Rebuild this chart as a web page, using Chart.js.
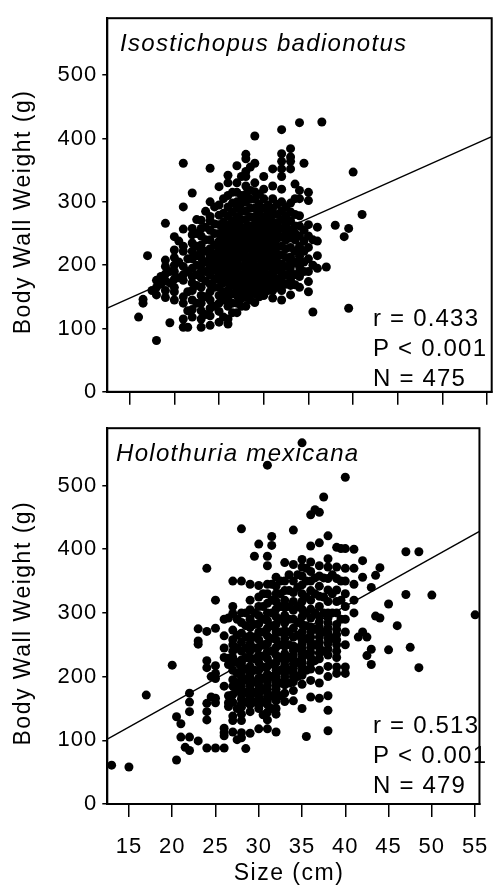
<!DOCTYPE html>
<html lang="en">
<head>
<meta charset="UTF-8">
<title>Body wall weight vs size</title>
<script src="https://cdn.jsdelivr.net/npm/chart.js"></script>
<style>
  body { margin: 0; background: #fff; }
  canvas { position: absolute; left: 0; display: block; }
</style>
</head>
<body>
<canvas id="topChart" width="504" height="410" style="top:0"></canvas>
<canvas id="bottomChart" width="504" height="480" style="top:410px"></canvas>
<script>
const xTicks = [15, 20, 25, 30, 35, 40, 45, 50, 55];
const yTicks = [0, 100, 200, 300, 400, 500];
const fitX = [12.5, 55.5];
const badionotusFit = [132, 403];
const mexicanaFit = [102, 428];
const badionotusStats = ['r = 0.433', 'P < 0.001', 'N = 475'];
const mexicanaStats = ['r = 0.513', 'P < 0.001', 'N = 479'];

// size (cm), body wall weight (g)
const badionotus = [
  [16,118],[16.5,140],[16.5,146],
  [17,215],[17.5,160],
  [18,81],[18,153],[18,165],[18,176],[18.5,170],[18.5,182],
  [19,149],[19,160],[19,175],[19,186],[19,198],[19,208],[19,266],[19.5,109],[19.5,172],[19.5,190],
  [20,145],[20,158],[20,165],[20,178],[20,190],[20,200],[20,212],[20,224],[20,245],[20.5,238],[20.5,180],[20.5,205],
  [21,102],[21,115],[21,140],[21,150],[21,176],[21,185],[21,198],[21,222],[21,230],[21,257],[21,292],[21,361],[21.5,102],[21.5,128],[21.5,158],[21.5,190],[21.5,210],
  [22,118],[22,130],[22,145],[22,160],[22,172],[22,182],[22,235],[22,248],[22,258],[22,314],[22.5,140],[22.5,168],[22.5,230],[22.5,272],
  [22,195],[22,210],[22,222],[22.5,185],[22.5,200],[22.5,215],[22.5,250],
  [23,102],[23,115],[23,128],[23,140],[23,152],[23,165],[23,180],[23,190],[23,232],[23,246],[23,258],[23,271],[23.5,122],[23.5,150],[23.5,205],[23.5,240],[23.5,285],
  [23,200],[23,212],[23,222],[23.5,175],[23.5,190],[23.5,222],[23.5,260],
  [24,105],[24,120],[24,132],[24,145],[24,158],[24,170],[24,185],[24,198],[24,212],[24,226],[24,240],[24,255],[24,270],[24,277],[24,300],[24,353],[24.5,135],[24.5,165],[24.5,192],[24.5,218],[24.5,250],[24.5,292],
  [24,192],[24,205],[24,218],[24.5,178],[24.5,205],[24.5,232],[24.5,265],
  [25,110],[25,127],[25,140],[25,152],[25,165],[25,178],[25,190],[25,202],[25,214],[25,226],[25,238],[25,250],[25,264],[25,279],[25,295],[25,324],[25.5,118],[25.5,145],[25.5,172],[25.5,196],[25.5,220],[25.5,244],[25.5,268],[25.5,305],
  [25,184],[25,196],[25,208],[25,220],[25,232],[25.5,158],[25.5,184],[25.5,208],[25.5,232],[25.5,256],[25.5,282],
  [26,107],[26,115],[26,135],[26,148],[26,160],[26,172],[26,184],[26,195],[26,206],[26,217],[26,228],[26,240],[26,252],[26,264],[26,278],[26,292],[26,310],[26,330],[26,342],[26.5,125],[26.5,155],[26.5,180],[26.5,200],[26.5,224],[26.5,246],[26.5,270],[26.5,298],
  [26,178],[26,190],[26,200],[26,211],[26,222],[26,234],[26.5,140],[26.5,168],[26.5,190],[26.5,212],[26.5,235],[26.5,258],[26.5,284],[26.5,315],
  [27,125],[27,140],[27,152],[27,164],[27,176],[27,187],[27,198],[27,209],[27,220],[27,231],[27,242],[27,253],[27,264],[27,276],[27,290],[27,300],[27,315],[27,330],[27,357],[27.5,135],[27.5,160],[27.5,185],[27.5,212],[27.5,236],[27.5,260],[27.5,285],[27.5,310],
  [27,170],[27,181],[27,192],[27,203],[27.5,148],[27.5,172],[27.5,198],[27.5,224],[27.5,248],[27.5,272],[27.5,298],[27.5,340],
  [28,135],[28,149],[28,160],[28,171],[28,182],[28,193],[28,204],[28,215],[28,226],[28,237],[28,248],[28,260],[28,272],[28,286],[28,300],[28,312],[28,325],[28,340],[28,348],[28,368],[28,375],[28.5,145],[28.5,168],[28.5,190],[28.5,214],[28.5,238],[28.5,262],[28.5,290],[28.5,318],
  [28,165],[28,176],[28,188],[28,198],[28,210],[28.5,156],[28.5,180],[28.5,202],[28.5,226],[28.5,250],[28.5,276],[28.5,304],[28.5,355],
  [29,141],[29,155],[29,166],[29,177],[29,188],[29,199],[29,210],[29,221],[29,232],[29,243],[29,254],[29,265],[29,277],[29,290],[29,304],[29,316],[29,330],[29,361],[29,404],[29.5,150],[29.5,175],[29.5,198],[29.5,222],[29.5,246],[29.5,270],[29.5,296],
  [29,160],[29,171],[29,182],[29,194],[29.5,162],[29.5,186],[29.5,210],[29.5,234],[29.5,258],[29.5,283],[29.5,312],
  [30,152],[30,164],[30,176],[30,187],[30,198],[30,209],[30,220],[30,231],[30,242],[30,253],[30,264],[30,276],[30,290],[30,305],[30,320],[30,340],[30.5,160],[30.5,185],[30.5,210],[30.5,234],[30.5,258],[30.5,282],
  [30,170],[30,181],[30,192],[30.5,172],[30.5,198],[30.5,222],[30.5,246],[30.5,270],[30.5,295],
  [31,148],[31,160],[31,172],[31,184],[31,196],[31,208],[31,220],[31,232],[31,244],[31,256],[31,268],[31,280],[31,290],[31,305],[31,325],[31,352],[31.5,165],[31.5,192],[31.5,218],[31.5,242],[31.5,266],[31.5,296],
  [31,166],[31,178],[31,190],[31.5,178],[31.5,205],[31.5,230],[31.5,254],[31.5,280],
  [32,145],[32,160],[32,174],[32,188],[32,202],[32,216],[32,230],[32,244],[32,258],[32,272],[32,286],[32,300],[32,320],[32,340],[32,352],[32,364],[32,376],[32,414],[32.5,170],[32.5,198],[32.5,226],[32.5,252],[32.5,278],
  [32,167],[32,181],[32,195],[32.5,184],[32.5,212],[32.5,240],[32.5,265],[32.5,292],
  [33,153],[33,168],[33,183],[33,198],[33,213],[33,228],[33,243],[33,256],[33,270],[33,284],[33,298],[33,352],[33,364],[33,371],[33,384],[33.5,169],[33.5,205],[33.5,240],[33.5,262],[33.5,305],[33.5,328],
  [33,176],[33,190],[33,205],[33.5,185],[33.5,222],[33.5,250],[33.5,280],
  [34,165],[34,182],[34,198],[34,214],[34,230],[34,246],[34,262],[34,278],[34,305],[34,318],[34,425],[34.5,361],[34.5,190],[34.5,222],[34.5,255],
  [34,190],[34,206],[34,222],[34.5,205],[34.5,238],
  [35,158],[35,174],[35,190],[35,210],[35,228],[35,246],[35,264],[35,302],[35,315],[35.5,126],[35.5,200],[35.5,240],
  [36,195],[36,215],[36,238],[36,260],[36.5,426],
  [37,197],[38,263],[39,245],[39.5,258],[39.5,132],[40,347],[41,280]
];

const mexicana = [
  [13,61],[15,58],[17,171],[20,218],[20.5,69],[20.5,137],[21,126],[21,105],[21.5,89],[22,84],[22,105],[22,145],[22,160],[22,174],[23,99],[23,251],[23,256],[23,275],
  [24,88],[24,132],[24,145],[24,158],[24,214],[24,225],[24,271],[24,370],
  [24.5,168],[24.5,200],[25,88],[25,159],[25,166],[25,197],[25,205],[25,217],[25,276],[25,320],
  [26,88],[26,107],[26,112],[26,119],[26,185],[26,230],[26,245],[26,264],[26,290],[26.5,153],[26.5,159],[26.5,170],[26.5,219],[26.5,229],[26.5,292],
  [27,113],[27,131],[27,138],[27,160],[27,172],[27,195],[27,210],[27,222],[27,240],[27,258],[27,273],[27,299],[27,310],[27,350],[27.5,101],[27.5,178],[27.5,205],[27.5,265],
  [27,185],[27,230],[27,250],[27.5,150],[27.5,190],[27.5,222],[27.5,245],[27.5,290],
  [28,104],[28,112],[28,131],[28,141],[28,152],[28,165],[28,178],[28,190],[28,202],[28,214],[28,226],[28,240],[28,254],[28,268],[28,285],[28,300],[28,350],[28,432],[28.5,87],[28.5,160],[28.5,195],[28.5,230],[28.5,262],[28.5,300],
  [28,158],[28,172],[28,184],[28,196],[28,208],[28,220],[28.5,175],[28.5,212],[28.5,245],[28.5,280],
  [29,111],[29,145],[29,156],[29,168],[29,180],[29,192],[29,204],[29,216],[29,228],[29,240],[29,252],[29,264],[29,277],[29,290],[29,305],[29,320],[29,345],[29.5,389],[29.5,175],[29.5,210],[29.5,245],[29.5,282],
  [29,162],[29,174],[29,186],[29,198],[29.5,160],[29.5,192],[29.5,228],[29.5,262],[29.5,300],
  [30,118],[30,150],[30,162],[30,174],[30,186],[30,198],[30,210],[30,222],[30,234],[30,246],[30,258],[30,270],[30,283],[30,296],[30,310],[30,325],[30,343],[30,408],[30.5,140],[30.5,180],[30.5,215],[30.5,250],[30.5,290],[30.5,330],
  [30,156],[30,168],[30,180],[30,192],[30.5,160],[30.5,198],[30.5,232],[30.5,270],[30.5,310],
  [31,118],[31,132],[31,144],[31,156],[31,168],[31,180],[31,192],[31,204],[31,216],[31,228],[31,240],[31,252],[31,264],[31,276],[31,288],[31,300],[31,315],[31,330],[31,345],[31,374],[31,389],[31,532],[31.5,406],[31.5,420],[31.5,150],[31.5,200],[31.5,240],[31.5,280],[31.5,320],
  [31,162],[31,174],[31,186],[31,198],[31.5,170],[31.5,220],[31.5,260],[31.5,300],[31.5,345],
  [32,113],[32,141],[32,150],[32,162],[32,174],[32,186],[32,198],[32,210],[32,222],[32,234],[32,246],[32,258],[32,270],[32,282],[32,294],[32,306],[32,318],[32,330],[32,342],[32,356],[32.5,170],[32.5,210],[32.5,250],[32.5,290],[32.5,330],
  [32,168],[32,180],[32,192],[32,204],[32.5,190],[32.5,230],[32.5,270],[32.5,310],[32.5,350],
  [33,161],[33,174],[33,187],[33,200],[33,212],[33,224],[33,236],[33,248],[33,260],[33,272],[33,284],[33,296],[33,308],[33,320],[33,335],[33,350],[33,379],[33.5,190],[33.5,230],[33.5,270],[33.5,310],[33.5,360],
  [33,194],[33,206],[33,218],[33.5,210],[33.5,250],[33.5,290],[33.5,335],
  [34,162],[34,178],[34,192],[34,206],[34,220],[34,234],[34,248],[34,262],[34,276],[34,290],[34,304],[34,318],[34,332],[34,350],[34,376],[34,430],[34.5,200],[34.5,245],[34.5,285],[34.5,340],
  [34,200],[34,213],[34,227],[34,241],[34.5,222],[34.5,265],[34.5,310],[34.5,360],
  [35,150],[35,188],[35,202],[35,216],[35,230],[35,244],[35,258],[35,270],[35,282],[35,294],[35,306],[35,318],[35,330],[35,344],[35,358],[35,372],[35,384],[35,567],[35.5,106],[35.5,210],[35.5,260],[35.5,300],[35.5,350],
  [35,209],[35,223],[35,237],[35,251],[35.5,235],[35.5,280],[35.5,325],[35.5,370],
  [36,168],[36,194],[36,212],[36,230],[36,246],[36,262],[36,278],[36,292],[36,306],[36,320],[36,335],[36,350],[36,365],[36,380],[36,405],[36,454],[36.5,462],[36.5,225],[36.5,275],[36.5,330],
  [36,221],[36,238],[36,254],[36,270],[36.5,250],[36.5,300],[36.5,355],
  [37,166],[37,190],[37,210],[37,228],[37,246],[37,262],[37,278],[37,294],[37,310],[37,326],[37,342],[37,358],[37,374],[37,410],[37,458],[37.5,482],[37.5,240],[37.5,300],[37.5,355],
  [37,237],[37,254],[37,270],[37,286],[37.5,270],[37.5,325],
  [38,115],[38,147],[38,170],[38,200],[38,216],[38,234],[38,252],[38,268],[38,284],[38,300],[38,318],[38,336],[38,354],[38,372],[38,385],[38,421],[38.5,260],[38.5,330],
  [38,243],[38,260],[38,276],[38,292],[38.5,300],[38.5,360],
  [39,205],[39,215],[39,230],[39,250],[39,266],[39,282],[39,300],[39,318],[39,336],[39,354],[39,372],[39,403],[39.5,401],[39.5,290],
  [39,240],[39,258],[39,274],[39.5,320],[39.5,350],
  [40,205],[40,215],[40,250],[40,270],[40,290],[40,310],[40,330],[40,350],[40,370],[40,401],[40,513],
  [41,300],[41,320],[41,345],[41,370],[41,400],[41.5,262],[42,270],[42,356],[42,382],[42.5,233],[42.5,262],[43,219],[43,243],[43,340],[43.5,295],[43.5,359],[44,292],[44,371],
  [45,242],[45,314],[46,280],[47,329],[47,396],[47.5,246],[48.5,214],[48.5,396],[50,328],[55,297]
];

const FONT = '"Liberation Sans", Arial, sans-serif';
Chart.defaults.font.family = FONT;
Chart.defaults.color = '#000';

// box, species name, stats and axis titles
const framePlugin = {
  id: 'frame',
  beforeDraw(chart) { chart.ctx.letterSpacing = '1px'; },
  afterDraw(chart, args, o) {
    const {ctx, chartArea: a} = chart;
    ctx.save();
    ctx.strokeStyle = '#000';
    ctx.lineWidth = 2;
    ctx.strokeRect(a.left, a.top, a.right - a.left, a.bottom - a.top);
    ctx.fillStyle = '#000';
    ctx.textAlign = 'left';
    ctx.textBaseline = 'alphabetic';
    ctx.letterSpacing = '1.3px';
    ctx.font = 'italic 24px ' + FONT;
    ctx.fillText(o.species, o.titleX, a.top + 32.5);
    ctx.letterSpacing = '1.2px';
    ctx.font = '24px ' + FONT;
    o.stats.forEach((s, i) => ctx.fillText(s, 373, a.bottom - o.statsOffset + 30 * i));
    ctx.letterSpacing = '1.5px';
    ctx.font = '23px ' + FONT;
    ctx.textAlign = 'center';
    ctx.save();
    ctx.translate(30, (a.top + a.bottom) / 2 + 7);
    ctx.rotate(-Math.PI / 2);
    ctx.fillText('Body Wall Weight (g)', 0, 0);
    ctx.restore();
    if (o.xTitle) ctx.fillText(o.xTitle, 289, a.bottom + 75.5);
    ctx.restore();
  }
};

function makeChart(id, points, fitY, opts) {
  new Chart(document.getElementById(id), {
    type: 'scatter',
    data: {
      datasets: [{
        data: points.map(p => ({x: p[0], y: p[1]})),
        backgroundColor: '#000',
        borderWidth: 0,
        pointRadius: 4.5
      }, {
        type: 'line',
        data: fitX.map((x, i) => ({x: x, y: fitY[i]})),
        borderColor: '#000',
        borderWidth: 1.4,
        pointRadius: 0,
        fill: false
      }]
    },
    options: {
      responsive: false,
      animation: false,
      events: [],
      layout: { padding: { top: opts.top, right: 12.3, left: 0, bottom: 0 } },
      plugins: {
        legend: { display: false },
        tooltip: { enabled: false },
        frame: opts.frame
      },
      scales: {
        x: {
          type: 'linear', min: 12.5, max: 55.5,
          afterBuildTicks: s => { s.ticks = xTicks.map(v => ({value: v})); },
          afterFit: s => { s.height = opts.xHeight; },
          grid: { drawOnChartArea: false, color: '#000', lineWidth: 1.5, tickLength: 13 },
          border: { color: '#000', width: 2 },
          ticks: {
            font: { size: 22 }, padding: 16.5, maxRotation: 0, autoSkip: false,
            callback: v => opts.labels ? v : ''
          }
        },
        y: {
          min: 0, max: 590,
          afterBuildTicks: s => { s.ticks = yTicks.map(v => ({value: v})); },
          afterFit: s => { s.width = 107.3; },
          grid: { drawOnChartArea: false, color: '#000', lineWidth: 1.5, tickLength: 5 },
          border: { color: '#000', width: 2 },
          ticks: { font: { size: 22 }, padding: 5 }
        }
      }
    },
    plugins: [framePlugin]
  });
}

makeChart('topChart', badionotus, badionotusFit, {
  top: 10, xHeight: 17.3, labels: false,
  frame: { species: 'Isostichopus badionotus', titleX: 120, stats: badionotusStats, statsOffset: 66 }
});
makeChart('bottomChart', mexicana, mexicanaFit, {
  top: 11.7, xHeight: 86, labels: true,
  frame: { species: 'Holothuria mexicana', titleX: 116, stats: mexicanaStats, statsOffset: 70.7, xTitle: 'Size (cm)' }
});
</script>
</body>
</html>
